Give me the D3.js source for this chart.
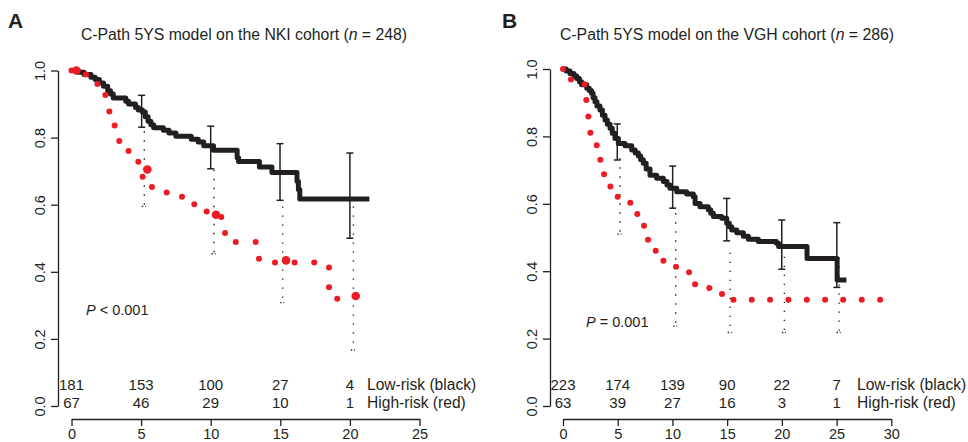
<!DOCTYPE html>
<html><head><meta charset="utf-8">
<script src="https://cdn.jsdelivr.net/npm/d3@7"></script>
<style>
body{margin:0;background:#fff;}
svg text{font-family:"Liberation Sans",Arial,sans-serif;fill:#231f20;}
</style></head>
<body><svg id="chart" width="968" height="442"></svg>
<script>
// ---------- Panel A data (NKI) ----------
const lowA_t = [0,0.5,0.9,1.4,1.7,2.0,2.3,2.6,2.8,3.0,3.9,4.1,4.6,4.8,5.1,5.3,5.5,5.7,5.9,6.6,7.0,7.5,8.6,9.1,9.5,10.2,11.9,12.0,13.5,14.4,16.2,16.3,16.4,21.4];
const lowA_s = [1,0.995,0.988,0.98,0.973,0.963,0.953,0.94,0.93,0.918,0.908,0.9,0.89,0.882,0.876,0.862,0.849,0.838,0.829,0.822,0.814,0.804,0.795,0.787,0.776,0.762,0.74,0.729,0.712,0.696,0.67,0.645,0.617,0.617];
const highA_t = [0,1.04,1.86,2.43,2.72,3.1,3.43,4.1,4.8,5.11,5.78,6.84,7.94,8.82,9.71,10.76,11.03,11.8,13.23,13.47,14.62,16.03,17.44,18.5,18.5,19.09];
const highA_s = [1.0,0.988,0.96,0.927,0.878,0.836,0.79,0.76,0.728,0.683,0.653,0.636,0.624,0.601,0.58,0.563,0.516,0.489,0.489,0.439,0.428,0.428,0.428,0.413,0.354,0.32];
const highBigA_t = [0.35,5.45,10.38,15.41,20.42];
const highBigA_s = [1.0,0.705,0.57,0.434,0.328];
const ciLowA_t = [5.04,10.0,14.98,20.0];
const ciLowA_lo = [0.831,0.707,0.613,0.50];
const ciLowA_hi = [0.926,0.834,0.782,0.754];
const ciHighA_t = [5.23,10.24,15.17,20.25];
const ciHighA_lo = [0.595,0.454,0.308,0.167];
const ciHighA_hi = [0.819,0.704,0.595,0.595];
const riskTimesA = [0,5,10,15,20];
const riskLowA = [181,153,100,27,4];
const riskHighA = [67,46,29,10,1];
const xTicksA = [0,5,10,15,20,25];

// ---------- Panel B data (VGH) ----------
const lowB_t = [0,0.3,0.64,1.0,1.25,1.5,1.7,2.17,2.4,2.6,2.75,2.92,3.1,3.38,3.6,3.84,4.05,4.3,4.5,4.75,5.06,5.67,6.28,6.6,6.89,7.1,7.34,7.6,7.95,8.56,9.17,9.5,9.78,10.39,11.3,11.91,12.07,12.52,13.28,13.5,13.74,14.5,14.96,15.2,15.42,15.88,16.48,16.94,17.85,19.5,19.7,22.3,25.05,25.9];
const lowB_s = [1,0.994,0.987,0.979,0.972,0.962,0.953,0.943,0.936,0.928,0.915,0.903,0.89,0.878,0.863,0.849,0.836,0.824,0.809,0.794,0.779,0.772,0.76,0.751,0.742,0.731,0.72,0.703,0.685,0.676,0.666,0.656,0.646,0.636,0.629,0.621,0.601,0.591,0.582,0.572,0.562,0.557,0.542,0.532,0.522,0.514,0.504,0.495,0.488,0.483,0.473,0.438,0.374,0.374];
const highB_t = [0,0.73,1.98,2.13,2.32,2.5,3.08,3.41,3.75,4.33,5.0,6.15,6.79,7.4,7.77,8.47,9.17,10.33,11.52,12.07,13.37,14.53,15.57,17.25,18.92,20.6,22.28,23.95,25.6,27.3,28.98];
const highB_s = [1.0,0.969,0.955,0.908,0.859,0.811,0.774,0.731,0.688,0.651,0.621,0.603,0.57,0.535,0.493,0.461,0.431,0.413,0.397,0.361,0.35,0.332,0.315,0.315,0.315,0.315,0.315,0.315,0.315,0.315,0.315];
const ciLowB_t = [4.96,10.02,14.96,19.99,25.02];
const ciLowB_lo = [0.730,0.587,0.490,0.406,0.352];
const ciLowB_hi = [0.837,0.712,0.616,0.552,0.544];
const ciHighB_t = [5.2,10.3,15.27,20.23,25.23];
const ciHighB_lo = [0.51,0.237,0.218,0.218,0.218];
const ciHighB_hi = [0.735,0.572,0.455,0.443,0.441];
const riskTimesB = [0,5,10,15,20,25];
const riskLowB = [223,174,139,90,22,7];
const riskHighB = [63,39,27,16,3,1];
const xTicksB = [0,5,10,15,20,25,30];

const yTicks = [0,0.2,0.4,0.6,0.8,1.0];
const BLACK = "#231f20", RED = "#ed1c24";

const svg = d3.select("#chart");

function panel(cfg){
  const g = svg.append("g");
  const x = d3.scaleLinear().domain(cfg.xDomain).range(cfg.xRange);
  const y = d3.scaleLinear().domain([0,1]).range(cfg.yRange);

  // letter and title
  g.append("text").attr("x",cfg.letterX).attr("y",28).attr("font-size",21).attr("font-weight","bold").text(cfg.letter);
  const title = g.append("text").attr("x",cfg.titleX).attr("y",40).attr("font-size",15.8).attr("text-anchor","middle");
  title.append("tspan").text(cfg.title+" (");
  title.append("tspan").attr("font-style","italic").text("n");
  title.append("tspan").text(" = "+cfg.n+")");

  // y axis
  const ya = g.append("g").attr("transform",`translate(${cfg.yAxisX},0)`)
    .call(d3.axisLeft(y).tickValues(yTicks).tickFormat(d3.format(".1f")).tickSize(7).tickSizeOuter(0));
  ya.select(".domain").attr("stroke",BLACK).attr("stroke-width",1.3);
  ya.selectAll(".tick line").attr("stroke",BLACK).attr("stroke-width",1.3);
  ya.selectAll(".tick text").attr("x",0).attr("y",-18.5).attr("dy","0.35em")
    .attr("transform","rotate(-90)").attr("text-anchor","middle").attr("font-size",14.5)
    .attr("font-family","Liberation Sans, Arial, sans-serif").attr("fill",BLACK);

  // x axis
  const xa = g.append("g").attr("transform",`translate(0,419)`)
    .call(d3.axisBottom(x).tickValues(cfg.xTicks).tickSize(7).tickSizeOuter(0));
  xa.select(".domain").attr("stroke",BLACK).attr("stroke-width",1.3);
  xa.selectAll(".tick line").attr("stroke",BLACK).attr("stroke-width",1.3);
  xa.selectAll(".tick text").attr("y",10).attr("dy","0.71em").attr("font-size",14.5)
    .attr("font-family","Liberation Sans, Arial, sans-serif").attr("fill",BLACK);

  // dotted CI lines (high risk)
  cfg.ciHigh_t.forEach((t,i)=>{
    g.append("line").attr("x1",x(t)).attr("x2",x(t)).attr("y1",y(cfg.ciHigh_hi[i])).attr("y2",y(cfg.ciHigh_lo[i]))
      .attr("stroke",BLACK).attr("stroke-width",1.4).attr("stroke-dasharray","1.4,7.6");
    g.append("line").attr("x1",x(t)-2.5).attr("x2",x(t)+1.5).attr("y1",y(cfg.ciHigh_lo[i])).attr("y2",y(cfg.ciHigh_lo[i]))
      .attr("stroke",BLACK).attr("stroke-width",1.4).attr("stroke-dasharray","1.4,1.8");
  });

  // low-risk KM step line
  const pts = cfg.low_t.map((t,i)=>[t,cfg.low_s[i]]);
  g.append("path").datum(pts)
    .attr("d",d3.line().x(d=>x(d[0])).y(d=>y(d[1])).curve(d3.curveStepAfter))
    .attr("fill","none").attr("stroke",BLACK).attr("stroke-width",5).attr("stroke-linejoin","round");

  // solid error bars (low risk)
  cfg.ciLow_t.forEach((t,i)=>{
    const xx = x(t);
    g.append("line").attr("x1",xx).attr("x2",xx).attr("y1",y(cfg.ciLow_hi[i])).attr("y2",y(cfg.ciLow_lo[i])).attr("stroke",BLACK).attr("stroke-width",1.5);
    [cfg.ciLow_hi[i],cfg.ciLow_lo[i]].forEach(v=>{
      g.append("line").attr("x1",xx-3.5).attr("x2",xx+3.5).attr("y1",y(v)).attr("y2",y(v)).attr("stroke",BLACK).attr("stroke-width",1.5);
    });
  });

  // high-risk red dotted curve
  g.selectAll(null).data(cfg.high_t.map((t,i)=>[t,cfg.high_s[i]])).enter().append("circle")
    .attr("cx",d=>x(d[0])).attr("cy",d=>y(d[1])).attr("r",3).attr("fill",RED);
  if(cfg.highBig_t){
    g.selectAll(null).data(cfg.highBig_t.map((t,i)=>[t,cfg.highBig_s[i]])).enter().append("circle")
      .attr("cx",d=>x(d[0])).attr("cy",d=>y(d[1])).attr("r",4.3).attr("fill",RED);
  }

  // numbers at risk
  cfg.riskTimes.forEach((t,i)=>{
    g.append("text").attr("x",x(t)).attr("y",390).attr("text-anchor","middle").attr("font-size",15).text(cfg.riskLow[i]);
    g.append("text").attr("x",x(t)).attr("y",408).attr("text-anchor","middle").attr("font-size",15).text(cfg.riskHigh[i]);
  });
  g.append("text").attr("x",cfg.legendX).attr("y",390).attr("font-size",15.6).text("Low-risk (black)");
  g.append("text").attr("x",cfg.legendX).attr("y",408).attr("font-size",15.6).text("High-risk (red)");

  // p value
  const p = g.append("text").attr("x",cfg.pX).attr("y",cfg.pY).attr("font-size",14.5);
  p.append("tspan").attr("font-style","italic").text("P");
  p.append("tspan").text(cfg.pText);
}

panel({letter:"A",letterX:8,title:"C-Path 5YS model on the NKI cohort",n:248,titleX:244,
  xDomain:[0,25],xRange:[71.5,419.5],yRange:[406,70.5],yAxisX:58,xTicks:xTicksA,
  low_t:lowA_t,low_s:lowA_s,high_t:highA_t,high_s:highA_s,highBig_t:highBigA_t,highBig_s:highBigA_s,
  ciLow_t:ciLowA_t,ciLow_lo:ciLowA_lo,ciLow_hi:ciLowA_hi,
  ciHigh_t:ciHighA_t,ciHigh_lo:ciHighA_lo,ciHigh_hi:ciHighA_hi,
  riskTimes:riskTimesA,riskLow:riskLowA,riskHigh:riskHighA,legendX:367,
  pX:86,pY:315,pText:" < 0.001"});

panel({letter:"B",letterX:502,title:"C-Path 5YS model on the VGH cohort",n:286,titleX:727,
  xDomain:[0,30],xRange:[563,891.3],yRange:[406,69],yAxisX:550,xTicks:xTicksB,
  low_t:lowB_t,low_s:lowB_s,high_t:highB_t,high_s:highB_s,
  ciLow_t:ciLowB_t,ciLow_lo:ciLowB_lo,ciLow_hi:ciLowB_hi,
  ciHigh_t:ciHighB_t,ciHigh_lo:ciHighB_lo,ciHigh_hi:ciHighB_hi,
  riskTimes:riskTimesB,riskLow:riskLowB,riskHigh:riskHighB,legendX:857,
  pX:586,pY:327,pText:" = 0.001"});
</script></body></html>
